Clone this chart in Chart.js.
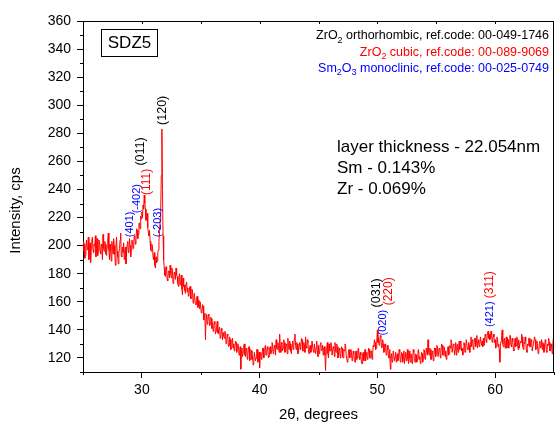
<!DOCTYPE html>
<html>
<head>
<meta charset="utf-8">
<script src="https://cdn.jsdelivr.net/npm/chart.js@4.4.0/dist/chart.umd.min.js"></script>
<style>
  body { margin: 0; background: #fff; }
  #wrap { width: 555px; height: 423px; }
</style>
</head>
<body>
<div id="wrap"><canvas id="xrdChart" width="555" height="423"></canvas></div>
<script>
// scan settings (2theta, degrees)
const scanStart = 25;
const scanStep = 0.05;

// measured intensity, cps, one row per degree from 25 to 65
const intensity = [
  196,203,201,191,193,199,204,197,198,206,190,195,202,188,199,204,206,197,195,201,
  200,207,192,198,205,193,197,204,203,196,194,201,199,190,208,198,196,203,201,194,
  193,199,204,209,197,190,201,196,189,203,199,194,205,200,194,186,200,206,196,192,
  187,195,198,204,209,193,192,199,195,202,190,196,199,187,196,201,203,195,197,205,
  200,192,197,204,203,198,199,207,206,201,204,212,211,205,208,216,216,212,221,219,
  224,220,229,226,236,230,226,218,219,223,213,209,207,211,203,197,196,201,199,192,
  190,195,186,184,192,188,189,195,197,203,210,218,226,250,283,240,207,190,184,179,
  178,185,183,176,175,182,181,177,186,180,177,184,182,173,174,181,180,176,184,179,
  178,173,171,177,180,172,174,179,169,165,177,171,172,168,166,173,174,167,170,164,
  165,170,171,162,163,169,168,159,160,166,166,158,158,163,164,156,161,157,155,160,
  160,152,153,158,157,147,149,152,133,148,151,144,146,151,150,143,144,149,148,141,
  145,139,141,146,144,137,139,143,146,138,137,141,142,134,135,141,140,133,138,136,
  134,139,138,130,131,137,136,128,129,135,133,126,127,133,134,127,130,125,128,132,
  131,124,126,130,129,122,123,128,112,125,127,121,124,129,130,122,121,127,126,119,
  123,127,128,118,119,126,125,119,121,115,117,124,124,118,120,126,126,117,118,124,
  113,122,124,119,120,127,127,120,122,128,129,122,123,128,126,120,121,127,128,123,
  125,131,130,123,124,129,128,122,133,127,126,131,129,124,137,128,124,131,130,125,
  127,133,131,124,125,130,129,123,134,128,126,132,130,125,123,129,132,126,128,134,
  137,129,126,131,130,123,124,129,131,126,128,134,133,125,125,131,129,124,135,128,
  127,133,131,124,123,128,129,124,126,132,132,125,124,130,130,123,127,132,125,121,
  129,123,124,130,131,125,126,129,122,127,128,122,111,124,127,131,123,120,130,125,
  125,131,129,122,122,128,127,121,131,125,124,130,128,120,121,127,126,120,123,128,
  127,121,120,126,125,130,129,122,122,117,118,125,126,120,121,126,124,118,119,125,
  123,118,117,124,125,119,120,126,127,121,119,124,122,116,116,123,124,118,121,126,
  118,123,124,119,121,127,126,120,120,125,125,119,123,129,128,133,131,126,127,132,
  140,131,134,129,131,136,135,127,128,133,130,124,125,130,128,122,123,129,126,120,
  120,126,112,121,123,117,119,125,125,118,121,124,117,121,123,118,120,126,124,117,
  118,124,123,117,120,125,116,121,124,118,121,126,119,116,125,120,117,123,122,116,
  120,126,124,118,117,123,122,117,119,125,126,119,121,116,118,124,123,117,120,126,
  125,119,121,127,127,122,133,124,122,127,126,119,119,125,124,118,121,127,127,121,
  123,129,128,121,121,127,126,120,124,130,129,122,122,128,127,121,125,119,120,126,
  128,122,123,129,127,133,131,124,124,130,129,122,126,131,122,128,130,124,127,132,
  126,132,131,125,127,122,124,131,130,124,128,133,133,126,126,131,129,124,131,135,
  128,133,132,126,129,134,134,128,131,136,127,131,133,128,130,135,135,129,132,128,
  134,129,131,137,136,131,133,138,139,134,137,133,134,139,136,131,133,137,135,131,
  133,127,129,135,134,128,130,126,117,129,132,136,140,130,128,133,134,127,130,135,
  127,134,133,127,130,136,136,129,128,134,132,126,125,131,134,128,129,135,131,126,
  133,127,127,132,131,137,135,128,126,131,130,135,132,126,124,130,129,134,134,128,
  128,133,131,125,125,130,130,135,133,126,127,132,129,123,124,130,132,127,128,133,
  126,131,130,124,127,133,132,125,124,130,129,134,131,125,125,130,128,123,130,134,
  127
];

const xTicks = [30, 40, 50, 60];
const yTicks = [120, 140, 160, 180, 200, 220, 240, 260, 280, 300, 320, 340, 360];

// reflection labels: text, 2theta, intensity where the label starts, phase
const hklText  = ['(401)', '(-402)', '(011)', '(111)', '(-203)', '(120)', '(031)', '(020)', '(220)', '(421)', '(311)'];
const hklAngle = [29.0, 29.58, 29.86, 30.42, 31.38, 31.72, 49.92, 50.45, 50.96, 59.52, 59.52];
const hklBase  = [206, 223, 257, 236, 206, 286, 156, 136, 157.5, 142, 162.5];
const hklPhase = [2, 2, 0, 1, 2, 0, 0, 2, 1, 2, 1];

// phases: 0 ZrO2 orthorhombic, 1 ZrO2 cubic, 2 Sm2O3 monoclinic
const phaseColors = ['#000000', '#ff0000', '#0000ff'];
const phaseNames = [
  [['ZrO', 0], ['2', 1], [' orthorhombic, ref.code: 00-049-1746', 0]],
  [['ZrO', 0], ['2', 1], [' cubic, ref.code: 00-089-9069', 0]],
  [['Sm', 0], ['2', 1], ['O', 0], ['3', 1], [' monoclinic, ref.code: 00-025-0749', 0]]
];

const sampleName = 'SDZ5';
const sampleNotes = ['layer thickness - 22.054nm', 'Sm - 0.143%', 'Zr - 0.069%'];

const FONT = "'Liberation Sans', Arial, sans-serif";
Chart.defaults.font.family = FONT;

const points = intensity.map((v, i) => ({ x: +(scanStart + i * scanStep).toFixed(2), y: v }));

// frame, minor ticks, titles and text
const decorations = {
  id: 'decorations',
  afterDraw(chart) {
    const ctx = chart.ctx;
    const a = chart.chartArea;
    const xs = chart.scales.x;
    const ys = chart.scales.y;
    ctx.save();

    // top and right frame
    ctx.strokeStyle = '#000';
    ctx.lineWidth = 1;
    ctx.beginPath();
    ctx.moveTo(a.left, Math.round(a.top) + 0.5);
    ctx.lineTo(a.right, Math.round(a.top) + 0.5);
    ctx.moveTo(Math.round(a.right) - 0.5, a.top);
    ctx.lineTo(Math.round(a.right) - 0.5, a.bottom);
    ctx.stroke();

    // minor ticks
    ctx.beginPath();
    for (let v = 110; v < 360; v += 20) {
      const py = Math.round(ys.getPixelForValue(v)) + 0.5;
      ctx.moveTo(a.left - 3, py);
      ctx.lineTo(a.left, py);
    }
    for (let v = 25; v <= 65; v += 10) {
      const px = Math.round(xs.getPixelForValue(v)) + 0.5;
      ctx.moveTo(px, a.bottom);
      ctx.lineTo(px, a.bottom + 3);
    }
    // small inward ticks on the top edge
    for (let v = 30; v < 65; v += 5) {
      const px = Math.round(xs.getPixelForValue(v)) + 0.5;
      ctx.moveTo(px, a.top);
      ctx.lineTo(px, a.top + 3);
    }
    ctx.stroke();

    // axis titles
    ctx.fillStyle = '#000';
    ctx.font = '15px ' + FONT;
    ctx.textAlign = 'center';
    ctx.textBaseline = 'middle';
    ctx.fillText('2\u03b8, degrees', (a.left + a.right) / 2, a.bottom + 43);
    ctx.save();
    ctx.translate(a.left - 67, (a.top + a.bottom) / 2 + 14);
    ctx.rotate(-Math.PI / 2);
    ctx.fillText('Intensity, cps', 0, 0);
    ctx.restore();

    // sample name box
    ctx.strokeRect(Math.round(a.left + 18) + 0.5, Math.round(a.top + 8) + 0.5, 56, 27);
    ctx.font = '17px ' + FONT;
    ctx.fillText(sampleName, a.left + 46.5, a.top + 22);

    // layer notes
    ctx.textAlign = 'left';
    ctx.textBaseline = 'alphabetic';
    sampleNotes.forEach((t, i) => ctx.fillText(t, a.left + 254, a.top + 131 + i * 20.8));

    // phase list, right aligned, with subscripts
    phaseNames.forEach((parts, i) => {
      const base = a.top + 18.3 + i * 16.3;
      const widths = parts.map(([t, sub]) => {
        ctx.font = (sub ? '9px ' : '12.5px ') + FONT;
        return ctx.measureText(t).width;
      });
      let x = a.right - 5 - widths.reduce((s, w) => s + w, 0);
      ctx.fillStyle = phaseColors[i];
      parts.forEach(([t, sub], k) => {
        ctx.font = (sub ? '9px ' : '12.5px ') + FONT;
        ctx.fillText(t, x, base + (sub ? 3.5 : 0));
        x += widths[k];
      });
    });

    // reflection labels, written upwards
    const hklFont = ['12.5px ', '12px ', '11px '];
    ctx.textBaseline = 'middle';
    hklText.forEach((t, i) => {
      const p = hklPhase[i];
      ctx.save();
      ctx.translate(xs.getPixelForValue(hklAngle[i]), ys.getPixelForValue(hklBase[i]));
      ctx.rotate(-Math.PI / 2);
      ctx.font = hklFont[p] + FONT;
      ctx.fillStyle = phaseColors[p];
      ctx.fillText(t, 0, 0);
      ctx.restore();
    });

    ctx.restore();
  }
};

new Chart(document.getElementById('xrdChart'), {
  type: 'line',
  data: {
    datasets: [{
      data: points,
      borderColor: '#ff0000',
      borderWidth: 1,
      pointRadius: 0,
      tension: 0,
      fill: false
    }]
  },
  options: {
    responsive: false,
    animation: false,
    devicePixelRatio: 1,
    layout: { padding: { top: 21, right: 1, left: 0, bottom: 0 } },
    plugins: { legend: { display: false }, tooltip: { enabled: false } },
    scales: {
      x: {
        type: 'linear',
        min: 25,
        max: 65,
        afterBuildTicks(scale) { scale.ticks = xTicks.map(v => ({ value: v })); },
        afterFit(scale) { scale.height = 51; },
        ticks: { color: '#000', font: { size: 14 }, padding: 4, maxRotation: 0 },
        grid: { drawOnChartArea: false, tickLength: 6, tickColor: '#000', tickWidth: 1 },
        border: { color: '#000', width: 1 }
      },
      y: {
        min: 110,
        max: 360,
        afterBuildTicks(scale) { scale.ticks = yTicks.map(v => ({ value: v })); },
        afterFit(scale) { scale.width = 83; },
        ticks: { color: '#000', font: { size: 14 }, padding: 6 },
        grid: { drawOnChartArea: false, tickLength: 6, tickColor: '#000', tickWidth: 1 },
        border: { color: '#000', width: 1 }
      }
    }
  },
  plugins: [decorations]
});
</script>
</body>
</html>
